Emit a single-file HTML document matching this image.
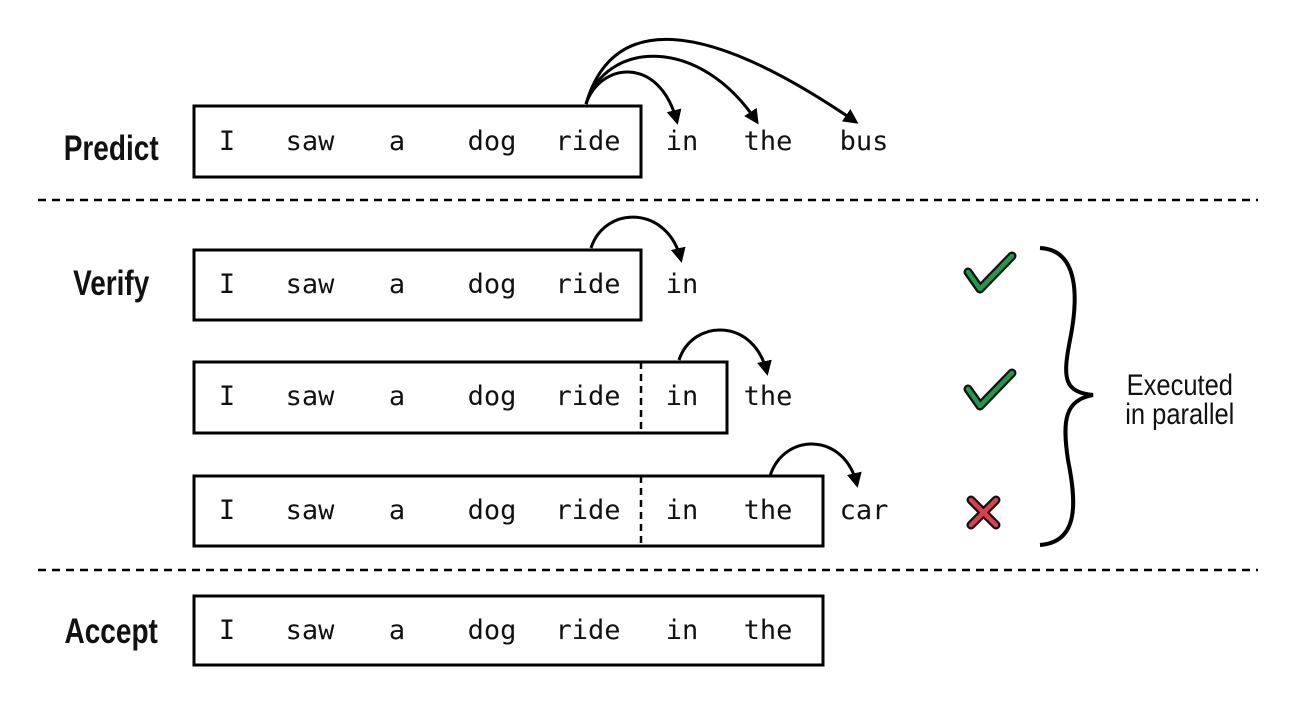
<!DOCTYPE html>
<html><head><meta charset="utf-8"><style>
html,body{margin:0;padding:0;background:#fff;}
svg{display:block;}
.m{font-family:"DejaVu Sans Mono","Liberation Mono",monospace;font-size:27px;fill:#111;text-anchor:middle;}
.l{font-family:"Liberation Sans",sans-serif;font-weight:bold;font-size:35px;fill:#111;text-anchor:middle;}
.e{font-family:"Liberation Sans",sans-serif;font-size:30px;fill:#111;text-anchor:middle;}
</style></head><body>
<svg width="1290" height="703" viewBox="0 0 1290 703" xmlns="http://www.w3.org/2000/svg">
<defs>
<marker id="a" viewBox="0 0 10 10" refX="8" refY="5" markerWidth="5" markerHeight="5" orient="auto"><path d="M0,0 L10,5 L0,10 z" fill="#000"/></marker>
</defs>
<g fill="none" stroke="#000" stroke-width="3">
<rect x="194" y="106" width="447" height="71"/>
<rect x="194" y="250" width="447" height="70"/>
<rect x="194" y="362" width="533" height="71"/>
<rect x="194" y="476" width="629" height="70"/>
<rect x="194" y="596" width="629" height="69"/>
<line x1="38" y1="200" x2="1258" y2="200" stroke-dasharray="8,6" stroke-width="2.5"/>
<line x1="38" y1="570" x2="1258" y2="570" stroke-dasharray="8,6" stroke-width="2.5"/>
<line x1="641" y1="362" x2="641" y2="433" stroke-dasharray="7,5" stroke-width="2.5"/>
<line x1="641" y1="476" x2="641" y2="546" stroke-dasharray="7,5" stroke-width="2.5"/>
<path d="M586,104 C600,62 660,55 677,122" marker-end="url(#a)"/>
<path d="M586,104 C606,40 700,35 757,122" marker-end="url(#a)"/>
<path d="M586,104 C612,15 700,15 856,122" marker-end="url(#a)"/>
<path d="M591,248 C605,205 668,205 681,260" marker-end="url(#a)"/>
<path d="M679,360 C693,318 755,318 767,373" marker-end="url(#a)"/>
<path d="M770,476 C784,432 845,432 857,485" marker-end="url(#a)"/>
<path d="M1040,248 C1080,250 1078,300 1070,340 C1062,380 1065,392 1093,395 C1065,400 1062,420 1068,460 C1076,500 1080,542 1040,545" stroke-width="4"/>
</g>
<g stroke="#111" stroke-width="9" stroke-linecap="round" stroke-linejoin="round" fill="none">
<path d="M968,272 L980,289 L1012,256"/><path d="M968,389 L980,406 L1012,373"/>
<path d="M971,500 L996,525 M996,500 L971,525"/>
</g>
<g stroke-width="4.5" stroke-linecap="round" stroke-linejoin="round" fill="none">
<path d="M968,272 L980,289 L1012,256" stroke="#1f9a4a"/><path d="M968,389 L980,406 L1012,373" stroke="#1f9a4a"/>
<path d="M971,500 L996,525 M996,500 L971,525" stroke="#d9414f"/>
</g>
<g transform="scale(0.8,1)">
<text class="l" x="139" y="160">Predict</text>
<text class="l" x="139" y="295">Verify</text>
<text class="l" x="139" y="643">Accept</text>
</g>
<g transform="scale(0.85,1)">
<text class="e" x="1388" y="395">Executed</text>
<text class="e" x="1388" y="424">in parallel</text>
</g>
<g class="m">
<text x="227" y="150">I</text><text x="310" y="150">saw</text><text x="397" y="150">a</text><text x="492" y="150">dog</text><text x="588" y="150">ride</text><text x="682" y="150">in</text><text x="768" y="150">the</text><text x="864" y="150">bus</text>
<text x="227" y="293">I</text><text x="310" y="293">saw</text><text x="397" y="293">a</text><text x="492" y="293">dog</text><text x="588" y="293">ride</text><text x="682" y="293">in</text>
<text x="227" y="405">I</text><text x="310" y="405">saw</text><text x="397" y="405">a</text><text x="492" y="405">dog</text><text x="588" y="405">ride</text><text x="682" y="405">in</text><text x="768" y="405">the</text>
<text x="227" y="519">I</text><text x="310" y="519">saw</text><text x="397" y="519">a</text><text x="492" y="519">dog</text><text x="588" y="519">ride</text><text x="682" y="519">in</text><text x="768" y="519">the</text><text x="864" y="519">car</text>
<text x="227" y="639">I</text><text x="310" y="639">saw</text><text x="397" y="639">a</text><text x="492" y="639">dog</text><text x="588" y="639">ride</text><text x="682" y="639">in</text><text x="768" y="639">the</text>
</g>
</svg>
</body></html>
